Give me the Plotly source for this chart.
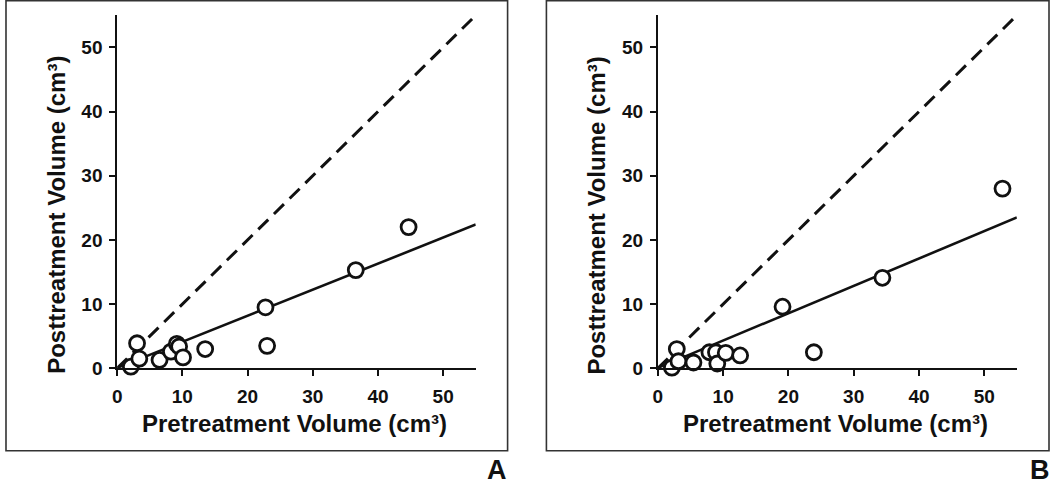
import plotly.graph_objects as go

# ---- data ----
pre_A = [2.1, 3.05, 3.4, 6.5, 8.25, 9.15, 9.5, 10.1, 13.5, 22.75, 23.0, 36.6, 44.7]
post_A = [0.25, 3.9, 1.5, 1.3, 2.6, 3.8, 3.4, 1.7, 3.0, 9.5, 3.5, 15.3, 22.0]
fit_A_x = [0.1, 55]
fit_A_y = [0.1, 22.4]

pre_B = [2.15, 2.9, 3.15, 5.45, 7.9, 8.9, 9.1, 10.4, 12.6, 19.1, 23.9, 34.4, 52.8]
post_B = [0.1, 3.0, 1.1, 0.9, 2.5, 2.5, 0.75, 2.4, 2.0, 9.6, 2.5, 14.1, 28.0]
fit_B_x = [0.1, 55]
fit_B_y = [0.1, 23.5]

identity_x = [0, 55]
identity_y = [0, 55]

tick_vals = [0, 10, 20, 30, 40, 50]
tick_text = ["0", "10", "20", "30", "40", "50"]
x_title = "Pretreatment Volume (cm³)"
y_title = "Posttreatment Volume (cm³)"
panel_labels = ["A", "B"]

W, H = 1050, 493
FONT = "Liberation Sans, Arial, sans-serif"
INK = "#111111"

fig = go.Figure()


def add_panel(xa, ya, px, py, fx, fy):
    fig.add_trace(go.Scatter(x=identity_x, y=identity_y, mode="lines",
                             line=dict(color=INK, width=3, dash="14px,8px"),
                             xaxis=xa, yaxis=ya, showlegend=False, hoverinfo="skip"))
    fig.add_trace(go.Scatter(x=fx, y=fy, mode="lines",
                             line=dict(color=INK, width=2.6),
                             xaxis=xa, yaxis=ya, showlegend=False, hoverinfo="skip"))
    fig.add_trace(go.Scatter(x=px, y=py, mode="markers",
                             marker=dict(size=15, color="white",
                                         line=dict(color=INK, width=2.8)),
                             cliponaxis=False,
                             xaxis=xa, yaxis=ya, showlegend=False))


add_panel("x", "y", pre_A, post_A, fit_A_x, fit_A_y)
add_panel("x2", "y2", pre_B, post_B, fit_B_x, fit_B_y)


def px2x(p):
    return p / W


def px2y(p):
    return 1 - p / H


axis_common = dict(range=[0, 55], tickvals=tick_vals, ticktext=tick_text,
                   showgrid=False, zeroline=False, showline=True,
                   linecolor=INK, linewidth=1.8, ticks="outside", ticklen=6,
                   tickwidth=1.8, tickcolor=INK,
                   tickfont=dict(family=FONT, size=19, color=INK, weight="bold"),
                   fixedrange=True)

ydom = [px2y(376.7), px2y(15.7)]
fig.update_layout(
    width=W, height=H, autosize=False,
    margin=dict(l=0, r=0, t=0, b=0),
    paper_bgcolor="white", plot_bgcolor="white",
    font=dict(family=FONT, color=INK),
    xaxis=dict(domain=[px2x(112.7), px2x(473)], anchor="y", ticklabelstandoff=4, **axis_common),
    yaxis=dict(domain=ydom, anchor="x", ticklabelstandoff=3, **axis_common),
    xaxis2=dict(domain=[px2x(656), px2x(1016.7)], anchor="y2", ticklabelstandoff=4, **axis_common),
    yaxis2=dict(domain=ydom, anchor="x2", ticklabelstandoff=3, **axis_common),
)

# frames
for x0, x1 in [(1, 505), (544, 1049)]:
    fig.add_shape(type="rect", xref="paper", yref="paper",
                  x0=px2x(x0), x1=px2x(x1), y0=px2y(461), y1=px2y(0.8),
                  line=dict(color="#333333", width=1.6), fillcolor="rgba(0,0,0,0)")

# axis titles and panel letters
for xc_title, yt_x, letter_x, label in [(291, 51, 494, panel_labels[0]),
                                         (291 + 543.3, 51 + 543.3, 1040, panel_labels[1])]:
    fig.add_annotation(x=px2x(xc_title), y=px2y(433), xref="paper", yref="paper",
                       text=x_title, showarrow=False, xanchor="center", yanchor="middle",
                       font=dict(family=FONT, size=24, color=INK, weight="bold"))
    fig.add_annotation(x=px2x(yt_x), y=px2y(220), xref="paper", yref="paper",
                       text=y_title, showarrow=False, textangle=-90,
                       xanchor="center", yanchor="middle",
                       font=dict(family=FONT, size=24, color=INK, weight="bold"))
    fig.add_annotation(x=px2x(letter_x), y=px2y(481), xref="paper", yref="paper",
                       text=label, showarrow=False,
                       xanchor="center", yanchor="middle",
                       font=dict(family=FONT, size=27, color=INK, weight="bold"))

fig.write_html("out.html", config={"displayModeBar": False},
               post_script="document.body.style.margin='0';document.body.style.overflow='hidden';")
